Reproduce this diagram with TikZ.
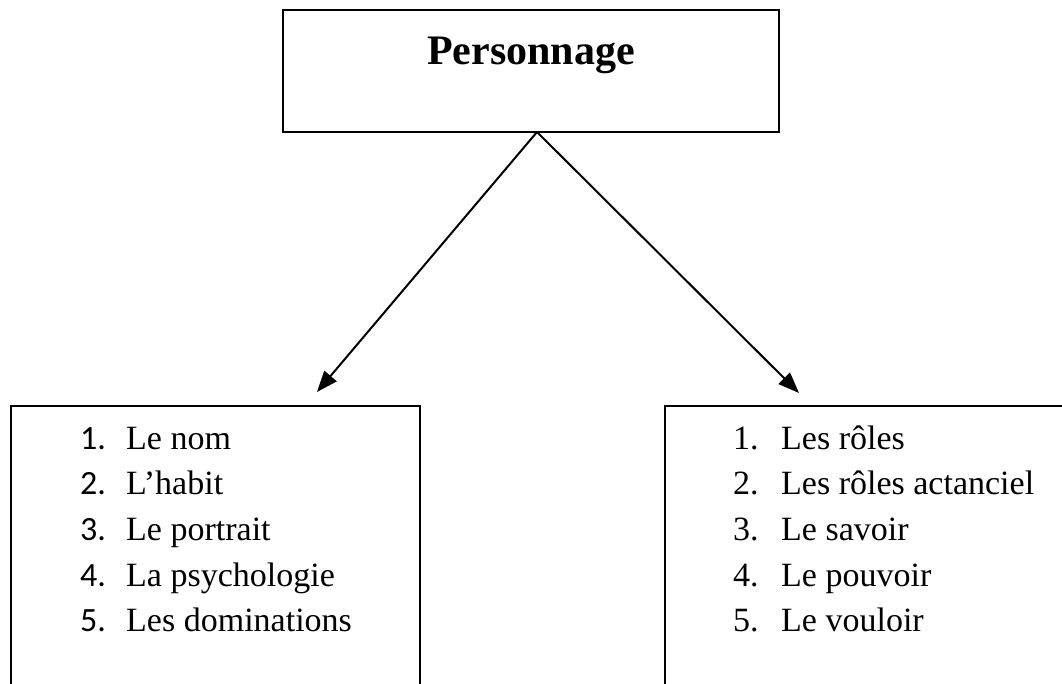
\documentclass[tikz,border=0pt]{standalone}
\usepackage{fontspec}
\setmainfont{Liberation Serif}
\newfontfamily\calibri{Carlito}
\usetikzlibrary{arrows.meta}
\begin{document}
\begin{tikzpicture}[x=1pt,y=1pt,
  boxline/.style={draw=black,line width=2pt},
  itemtext/.style={anchor=base west,inner sep=0pt,font=\fontsize{34}{40}\selectfont},
  numsans/.style={anchor=base west,inner sep=0pt,font=\calibri\fontsize{34}{40}\selectfont},
  conn/.style={line width=2pt,-{Triangle[length=21pt,width=16pt]}}]
\useasboundingbox (0,0) rectangle (1062,-684);
\clip (0,0) rectangle (1062,-684);
% top box
\node[boxline,minimum width=496pt,minimum height=122pt,inner sep=0pt] (top) at (531,-71) {};
\node[anchor=base,inner sep=0pt,font=\bfseries\fontsize{42}{50}\selectfont] (title) at (531,-65) {Personnage};
% lower boxes (bottom edge lies outside the picture)
\node[boxline,minimum width=409pt,minimum height=320pt,inner sep=0pt,anchor=north west] (left) at (10,-405) {};
\node[boxline,minimum width=420pt,minimum height=320pt,inner sep=0pt,anchor=north west] (right) at (664,-405) {};
% connectors
\coordinate (apex) at (537,-132);
\coordinate (tipL) at (317,-392);
\coordinate (tipR) at (799,-393);
\draw[conn] (apex) -- (tipL);
\draw[conn] (apex) -- (tipR);
% left list
\node[numsans] (ln1) at (80,-449) {1.};
\node[itemtext] (lt1) at (126,-449) {Le nom};
\node[numsans] (ln2) at (80,-494.7) {2.};
\node[itemtext] (lt2) at (126,-494.7) {L’habit};
\node[numsans] (ln3) at (80,-540.4) {3.};
\node[itemtext] (lt3) at (126,-540.4) {Le portrait};
\node[numsans] (ln4) at (80,-586.1) {4.};
\node[itemtext] (lt4) at (126,-586.1) {La psychologie};
\node[numsans] (ln5) at (80,-631.8) {5.};
\node[itemtext] (lt5) at (126,-631.8) {Les dominations};
% right list
\node[itemtext] (rn1) at (733,-449) {1.};
\node[itemtext] (rt1) at (781,-449) {Les rôles};
\node[itemtext] (rn2) at (733,-494.7) {2.};
\node[itemtext] (rt2) at (781,-494.7) {Les rôles actanciel};
\node[itemtext] (rn3) at (733,-540.4) {3.};
\node[itemtext] (rt3) at (781,-540.4) {Le savoir};
\node[itemtext] (rn4) at (733,-586.1) {4.};
\node[itemtext] (rt4) at (781,-586.1) {Le pouvoir};
\node[itemtext] (rn5) at (733,-631.8) {5.};
\node[itemtext] (rt5) at (781,-631.8) {Le vouloir};
\end{tikzpicture}
\end{document}
